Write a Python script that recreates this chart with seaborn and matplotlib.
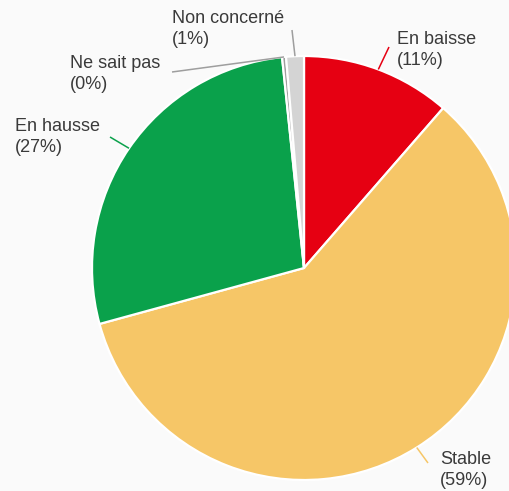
import numpy as np
import matplotlib
matplotlib.use("Agg")
import matplotlib.pyplot as plt
import seaborn as sns

# Answer shares (%) going clockwise from 12 o'clock
categories = ["En baisse", "Stable", "En hausse", "Ne sait pas", "Non concerné"]
shares = [11.4, 59.35, 27.6, 0.3, 1.35]
share_labels = ["11%", "59%", "27%", "0%", "1%"]
slice_colors = ["#E60012", "#F6C667", "#0AA14B", "#9E9E9E", "#D4D4D4"]
line_colors = ["#E60012", "#F6C667", "#0AA14B", "#9E9E9E", "#9E9E9E"]

sns.set_theme(style="white")
plt.rcParams["font.family"] = ["Liberation Sans", "DejaVu Sans"]

bg = "#FAFAFA"
W, H, DPI = 510, 491, 100
fig = plt.figure(figsize=(W / DPI, H / DPI), dpi=DPI, facecolor=bg)
ax = fig.add_axes([0, 0, 1, 1])
ax.set_facecolor(bg)

# pixel geometry of the pie
cx, cy, R = 304.0, 268.0, 212.0


def px(x, y):
    """Convert pixel position (origin top-left) to data units (pie radius = 1)."""
    return (x - cx) / R, (cy - y) / R


wedges, _ = ax.pie(
    shares,
    colors=slice_colors,
    startangle=90,
    counterclock=False,
    radius=1.0,
    center=(0, 0),
    wedgeprops=dict(edgecolor="white", linewidth=1.6),
    frame=True,
)
ax.set_xlim(px(0, 0)[0], px(W, 0)[0])
ax.set_ylim(px(0, H)[1], px(0, 0)[1])
ax.set_aspect("auto")
ax.axis("off")

# label block top-left corners (pixels) and leader end points (pixels)
text_pos = [(397, 31), (440, 451), (15, 118), (70, 55), (172, 10)]
line_end = [(389, 47), (428, 463), (110, 137), (172, 72), (292, 30)]

for w, cat, lab, (tx, ty), (lx, ly), lc in zip(
    wedges, categories, share_labels, text_pos, line_end, line_colors
):
    mid = np.deg2rad((w.theta1 + w.theta2) / 2.0)
    ex, ey = np.cos(mid), np.sin(mid)
    ax.plot([ex, px(lx, ly)[0]], [ey, px(lx, ly)[1]], color=lc, lw=1.1,
            solid_capstyle="butt", zorder=1)
    ax.text(*px(tx, ty), f"{cat}\n({lab})", ha="left", va="top",
            fontsize=13, color="#3A3A3A", linespacing=1.3)

fig.savefig("out.png", dpi=DPI, facecolor=bg)
